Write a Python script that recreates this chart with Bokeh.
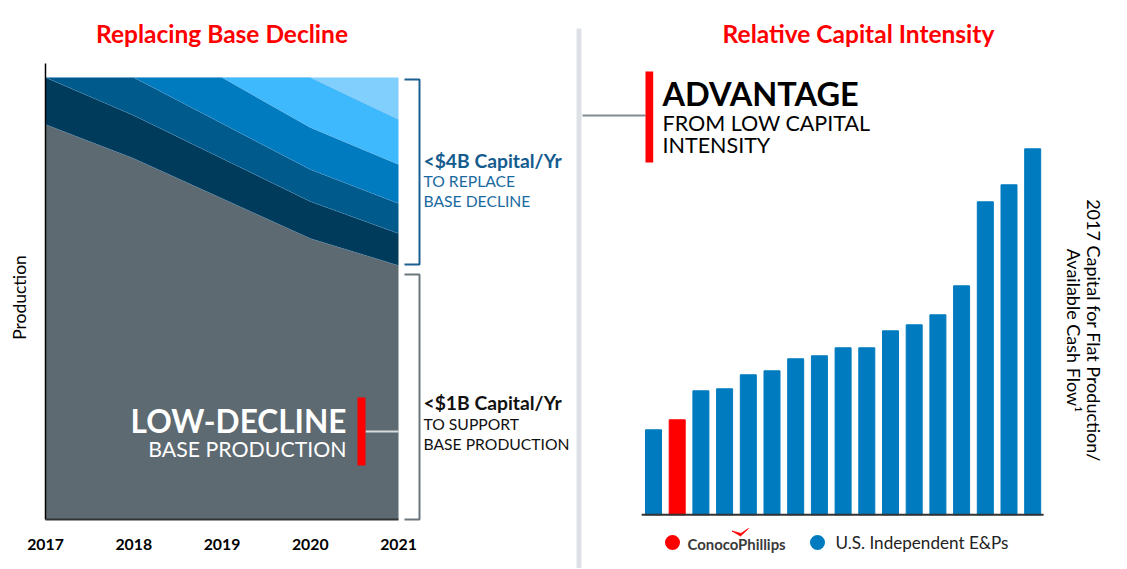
import math
from bokeh.plotting import figure
from bokeh.layouts import row
from bokeh.models import ColumnDataSource, Range1d
from bokeh.core.properties import value
from bokeh.embed import file_html
from bokeh.resources import INLINE

# ---------------- data ----------------
years = [2017, 2018, 2019, 2020, 2021]
year_labels = ["2017", "2018", "2019", "2020", "2021"]
base_production = [395, 361, 321, 281, 254]
wedge_2017 = [47, 43, 40, 37, 32]
wedge_2018 = [0, 38, 35, 32, 30]
wedge_2019 = [0, 0, 46, 42, 39]
wedge_2020 = [0, 0, 0, 50, 45]
wedge_2021 = [0, 0, 0, 0, 42]
layer_names = ["base", "w2017", "w2018", "w2019", "w2020", "w2021"]
layer_colors = ["#5d6a71", "#003b5c", "#005a8c", "#007bbf", "#3eb9fe", "#80cffd"]

capital_intensity = [85, 95, 124, 126, 140, 144, 156, 159, 167, 167,
                     184, 190, 200, 229, 313, 330, 366]
is_conocophillips = [False, True] + [False] * 15
legend_labels = ["ConocoPhillips", "U.S. Independent E&Ps"]
RED = "#ff0000"
BLUE = "#007bbf"

FONT = value("Lato")
PAGE_W, PAGE_H = 1126, 568
SPLIT = 575

# ---------------- left: Replacing Base Decline ----------------
PX_PER_YEAR = 88.25
def lx(px):
    return 2017 + (px - 45) / PX_PER_YEAR
def ly(py):
    return 519 - py

p1 = figure(width=SPLIT, height=PAGE_H, x_range=Range1d(lx(0), lx(SPLIT)), y_range=Range1d(ly(PAGE_H), ly(0)),
            output_backend="svg", toolbar_location=None, x_axis_location=None, y_axis_location=None,
            min_border=0)
p1.grid.visible = False
p1.outline_line_color = None

src = ColumnDataSource(dict(year=years, base=base_production, w2017=wedge_2017, w2018=wedge_2018,
                            w2019=wedge_2019, w2020=wedge_2020, w2021=wedge_2021))
p1.varea_stack(stackers=layer_names, x="year", color=layer_colors, source=src)
p1.vline_stack(stackers=layer_names[:-1], x="year", color="#6fa9d6", line_alpha=0.35,
               line_width=0.7, source=src)

total = base_production[-1] + wedge_2017[-1] + wedge_2018[-1] + wedge_2019[-1] + wedge_2020[-1] + wedge_2021[-1]
base_end = base_production[-1]

# axes lines, year labels, axis title
p1.segment(x0=[years[0]], y0=[0], x1=[years[0]], y1=[total + 14], line_color="#000000", line_width=1.5)
p1.segment(x0=[years[0]], y0=[0], x1=[years[-1]], y1=[0], line_color="#333333", line_width=2)
p1.text(x=years, y=[ly(544)] * len(years), text=year_labels, text_font=FONT, text_font_style="bold",
        text_font_size="15.8px", text_color="#000000", text_align="center", text_baseline="middle")
p1.text(x=[lx(19)], y=[ly(297)], text=["Production"], text_font=FONT, text_font_size="17.5px",
        text_color="#000000", angle=math.pi / 2, text_align="center", text_baseline="middle")

# title
p1.text(x=[(years[0] + years[-1]) / 2], y=[ly(33)], text=["Replacing Base Decline"],
        text_font=FONT, text_font_style="bold", text_font_size="24.5px", text_color=RED,
        text_align="center", text_baseline="middle")

# brackets
bx0, bx1 = lx(404), lx(419)
p1.line(x=[bx0, bx1, bx1, bx0], y=[total - 2, total - 2, base_end + 1, base_end + 1],
        line_color="#1b5f8f", line_width=2)
p1.line(x=[bx0, bx1, bx1, bx0], y=[base_end - 9, base_end - 9, 0, 0],
        line_color="#6b767c", line_width=2)

# bracket texts
tx = lx(423)
p1.text(x=[tx], y=[ly(160)], text=["<$4B Capital/Yr"], text_font=FONT, text_font_style="bold",
        text_font_size="19.3px", text_color="#145c8e", text_align="left", text_baseline="middle")
p1.text(x=[tx, tx], y=[ly(180), ly(200)], text=["TO REPLACE", "BASE DECLINE"], text_font=FONT,
        text_font_size="15.7px", text_color="#1a6a9f", text_align="left", text_baseline="middle")
p1.text(x=[tx], y=[ly(402)], text=["<$1B Capital/Yr"], text_font=FONT, text_font_style="bold",
        text_font_size="19.3px", text_color="#111111", text_align="left", text_baseline="middle")
p1.text(x=[tx, tx], y=[ly(423), ly(443)], text=["TO SUPPORT", "BASE PRODUCTION"], text_font=FONT,
        text_font_size="15.7px", text_color="#111111", text_align="left", text_baseline="middle")

# callout inside the base area
p1.segment(x0=[lx(365)], y0=[ly(431)], x1=[years[-1]], y1=[ly(431)], line_color="#d7dcdf", line_width=2)
p1.quad(left=[lx(357)], right=[lx(365)], top=[ly(397)], bottom=[ly(465)], fill_color=RED, line_color=None)
p1.text(x=[lx(346)], y=[ly(420)], text=["LOW-DECLINE"], text_font=FONT, text_font_style="bold",
        text_font_size="31.6px", text_color="#ffffff", text_align="right", text_baseline="middle")
p1.text(x=[lx(346)], y=[ly(448)], text=["BASE PRODUCTION"], text_font=FONT,
        text_font_size="21.3px", text_color="#ffffff", text_align="right", text_baseline="middle")

# ---------------- right: Relative Capital Intensity ----------------
PITCH = 23.7
def rx(px):
    return (px - 653) / PITCH
def ry(py):
    return 514.3 - py

p2 = figure(width=PAGE_W - SPLIT, height=PAGE_H, x_range=Range1d(rx(SPLIT), rx(PAGE_W)),
            y_range=Range1d(ry(PAGE_H), ry(0)),
            output_backend="svg", toolbar_location=None, x_axis_location=None, y_axis_location=None,
            min_border=0)
p2.grid.visible = False
p2.outline_line_color = None

# separator between panels
p2.segment(x0=[rx(578.5)], y0=[ry(28)], x1=[rx(578.5)], y1=[ry(PAGE_H + 5)], line_color="#dde1e5", line_width=5)

bar_x = list(range(len(capital_intensity)))
bar_colors = [RED if c else BLUE for c in is_conocophillips]
bsrc = ColumnDataSource(dict(x=bar_x, top=capital_intensity, color=bar_colors))
p2.vbar(x="x", top="top", width=0.675, color="color", source=bsrc)
p2.segment(x0=[-0.5], y0=[0], x1=[len(capital_intensity) - 0.54], y1=[0], line_color="#333333", line_width=2)

p2.text(x=[rx(858)], y=[ry(33)], text=["Relative Capital Intensity"], text_font=FONT,
        text_font_style="bold", text_font_size="24.5px", text_color=RED,
        text_align="center", text_baseline="middle")

# advantage callout
p2.segment(x0=[rx(582)], y0=[ry(115)], x1=[rx(645)], y1=[ry(115)], line_color="#808b91", line_width=2)
p2.quad(left=[rx(645)], right=[rx(652.7)], top=[ry(71)], bottom=[ry(162)], fill_color=RED, line_color=None)
p2.text(x=[rx(662)], y=[ry(93)], text=["ADVANTAGE"], text_font=FONT, text_font_style="bold",
        text_font_size="32.5px", text_color="#000000", text_align="left", text_baseline="middle")
p2.text(x=[rx(662), rx(662)], y=[ry(122), ry(144)], text=["FROM LOW CAPITAL", "INTENSITY"],
        text_font=FONT, text_font_size="21.5px", text_color="#000000",
        text_align="left", text_baseline="middle")

# vertical axis title on the right
p2.text(x=[rx(1093), rx(1073)], y=[ry(330), ry(330)],
        text=["2017 Capital for Flat Production/", "Available Cash Flow\u00b9"],
        text_font=FONT, text_font_size="18px", text_color="#000000", angle=-math.pi / 2,
        text_align="center", text_baseline="middle")

# legend
p2.scatter(x=[rx(672), rx(817)], y=[ry(542), ry(542)], size=15, color=[RED, BLUE], line_color=None)
p2.text(x=[rx(687)], y=[ry(543)], text=[legend_labels[0]], text_font=FONT, text_font_style="bold",
        text_font_size="14.9px", text_color="#3a3a3a", text_align="left", text_baseline="middle")
p2.patch(x=[rx(731.5), rx(740), rx(748), rx(740.5)], y=[ry(530.5), ry(535.5), ry(528), ry(533)],
         fill_color=RED, line_color=RED, line_width=0.8)
p2.text(x=[rx(835)], y=[ry(542)], text=[legend_labels[1]], text_font=FONT,
        text_font_size="17.1px", text_color="#222222", text_align="left", text_baseline="middle")

layout = row(p1, p2)
open("out.html", "w").write(file_html(layout, INLINE))
